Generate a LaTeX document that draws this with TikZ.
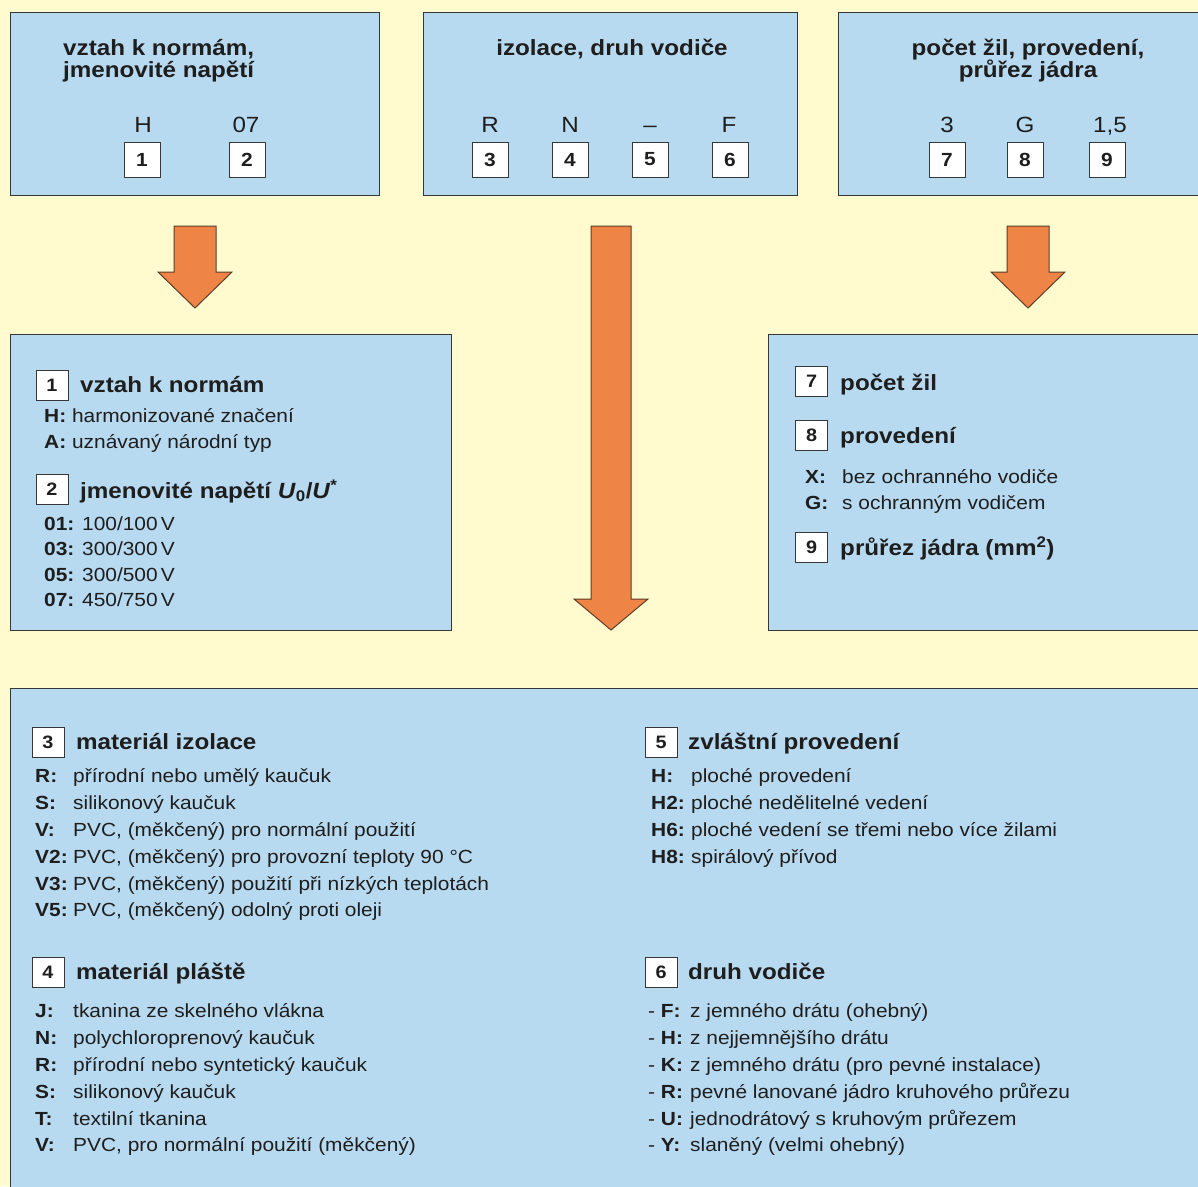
\documentclass[tikz,border=0pt]{standalone}
\usepackage{fontspec}
\setmainfont{Liberation Sans}[FakeStretch=1.1]

\definecolor{paper}{RGB}{255,251,207}
\definecolor{boxblue}{RGB}{184,218,240}
\definecolor{linegray}{RGB}{55,55,55}
\definecolor{arroworange}{RGB}{238,133,70}
\definecolor{arrowline}{RGB}{95,60,40}
\definecolor{inkgray}{RGB}{30,30,30}

\tikzset{
  panel/.style={draw=linegray, line width=1.3pt, fill=boxblue, anchor=north west, inner sep=0pt},
  numbox/.style={draw=linegray, line width=1pt, fill=white, minimum width=36pt, minimum height=35pt,
    inner sep=0pt, font=\bfseries\fontsize{19}{19}\selectfont},
  listbox/.style={numbox, minimum width=32pt, minimum height=30pt, font=\bfseries\fontsize{18}{18}\selectfont},
  title/.style={font=\bfseries\fontsize{22}{22}\selectfont, inner sep=0pt},
  code/.style={font=\fontsize{22}{22}\selectfont, anchor=base, inner sep=0pt},
  heading/.style={font=\bfseries\fontsize{22}{22}\selectfont, anchor=base west, inner sep=0pt},
  item/.style={font=\fontsize{19}{19}\selectfont, anchor=base west, inner sep=0pt},
  blockarrow/.style={fill=arroworange, draw=arrowline, line width=1pt, line join=miter},
}

% x, top, head base, tip, shaft half width, head half width
\newcommand{\downblock}[6]{%
  \draw[blockarrow] (#1-#5,#2) -- (#1+#5,#2) -- (#1+#5,#3) -- (#1+#6,#3) -- (#1,#4)
    -- (#1-#6,#3) -- (#1-#5,#3) -- cycle;}

\begin{document}
\begin{tikzpicture}[x=1pt,y=-1pt, every node/.append style={text=inkgray}]
    \useasboundingbox (0,0) rectangle (1198,1186);
    \fill[paper] (0,0) rectangle (1198,1186);
    \clip (0,0) rectangle (1198,1186);

    % Top panels
    \node[panel, minimum width=369pt, minimum height=183pt] (normy) at (10,12) {};
    \node[panel, minimum width=374pt, minimum height=183pt] (izolace) at (423,12) {};
    \node[panel, minimum width=400pt, minimum height=183pt] (zily) at (838,12) {};

    \node[title, anchor=base west] (tA1) at (63,55) {vztah k normám,};
    \node[title, anchor=base west] (tA2) at (63,77) {jmenovité napětí};
    \node[title, anchor=base] (tB) at (612,55) {izolace, druh vodiče};
    \node[title, anchor=base] (tC1) at (1028,55) {počet žil, provedení,};
    \node[title, anchor=base] (tC2) at (1028,77) {průřez jádra};

    % Code letters and their numbers
    \foreach \x/\c/\n/\bx in {143/H/1/142, 246/07/2/247, 490/R/3/490, 570/N/4/570,
                              650/–/5/650, 729/F/6/730, 947/3/7/947, 1025/G/8/1025, {1110/1,5/9/1107}} {
        \node[code] (c\n) at (\x,132) {\c};
        \node[numbox] (n\n) at (\bx,159.5) {\n};
    }

    % Arrows
    \downblock{195}{226}{272}{308}{21}{37}
    \downblock{611}{226}{599}{630}{20}{37}
    \downblock{1028}{226}{272}{308}{21}{37}

    % Middle and bottom panels
    \node[panel, minimum width=441pt, minimum height=296pt] (vyklad1) at (10,334) {};
    \node[panel, minimum width=450pt, minimum height=296pt] (vyklad3) at (768,334) {};
    \node[panel, minimum width=1220pt, minimum height=520pt] (vyklad2) at (10,688) {};

    % Panel 1: norms and voltage
    \node[listbox] (k1) at (52,385) {1};
    \node[heading] (h1) at (80,392) {vztah k normám};
    \foreach \k/\t/\y in {H/harmonizované značení/422, A/uznávaný národní typ/448} {
        \node[item] (i1\k) at (44,\y) {\textbf{\k:} \t};
    }
    \node[listbox] (k2) at (52,489) {2};
    \node[heading] (h2) at (80,498) {jmenovité napětí \textit{U}\textsubscript{0}/\textit{U}\textsuperscript{*}};
    \foreach \k/\t [count=\i] in {01/{100/100\,V}, 03/{300/300\,V}, 05/{300/500\,V}, 07/{450/750\,V}} {
        \node[item] (i2\k) at (44,504.5+25.6*\i) {\textbf{\k:} \t};
    }

    % Panel 3: cores, design, cross-section
    \node[listbox] (k7) at (811.5,381) {7};
    \node[heading] (h7) at (840,390) {počet žil};
    \node[listbox] (k8) at (811.5,435) {8};
    \node[heading] (h8) at (840,443) {provedení};
    \foreach \k/\t/\y in {X/bez ochranného vodiče/483, G/s ochranným vodičem/509} {
        \node[item] (i8\k) at (805,\y) {\makebox[37pt][l]{\textbf{\k:}}\t};
    }
    \node[listbox] (k9) at (811.5,547) {9};
    \node[heading] (h9) at (840,555) {průřez jádra (mm\textsuperscript{2})};

    % Panel 2: insulation, sheath, special design, conductor
    \node[listbox] (k3) at (48,742) {3};
    \node[heading] (h3) at (76,749) {materiál izolace};
    \foreach \k/\t [count=\i] in {{R/přírodní nebo umělý kaučuk}, {S/silikonový kaučuk},
                                  {V/PVC, (měkčený) pro normální použití},
                                  {V2/PVC, (měkčený) pro provozní teploty 90 °C},
                                  {V3/PVC, (měkčený) použití při nízkých teplotách},
                                  {V5/PVC, (měkčený) odolný proti oleji}} {
        \node[item] (i3\i) at (35,756+26.8*\i) {\makebox[38pt][l]{\textbf{\k:}}\t};
    }
    \node[listbox] (k4) at (48,972) {4};
    \node[heading] (h4) at (76,979) {materiál pláště};
    \foreach \k/\t [count=\i] in {J/tkanina ze skelného vlákna, N/polychloroprenový kaučuk,
                                  R/přírodní nebo syntetický kaučuk, S/silikonový kaučuk,
                                  T/textilní tkanina, {V/PVC, pro normální použití (měkčený)}} {
        \node[item] (i4\i) at (35,991+26.8*\i) {\makebox[38pt][l]{\textbf{\k:}}\t};
    }
    \node[listbox] (k5) at (661,742) {5};
    \node[heading] (h5) at (688,749) {zvláštní provedení};
    \foreach \k/\t [count=\i] in {H/ploché provedení, H2/ploché nedělitelné vedení,
                                  H6/ploché vedení se třemi nebo více žilami, H8/spirálový přívod} {
        \node[item] (i5\i) at (651,756+26.8*\i) {\makebox[40pt][l]{\textbf{\k:}}\t};
    }
    \node[listbox] (k6) at (661,972) {6};
    \node[heading] (h6) at (688,979) {druh vodiče};
    \foreach \k/\t [count=\i] in {{F/z jemného drátu (ohebný)}, H/z nejjemnějšího drátu,
                                  {K/z jemného drátu (pro pevné instalace)},
                                  R/pevné lanované jádro kruhového průřezu,
                                  U/jednodrátový s kruhovým průřezem, {Y/slaněný (velmi ohebný)}} {
        \node[item] (i6\i) at (648,991+26.8*\i) {\makebox[42pt][l]{- \textbf{\k:}}\t};
    }
\end{tikzpicture}
\end{document}
